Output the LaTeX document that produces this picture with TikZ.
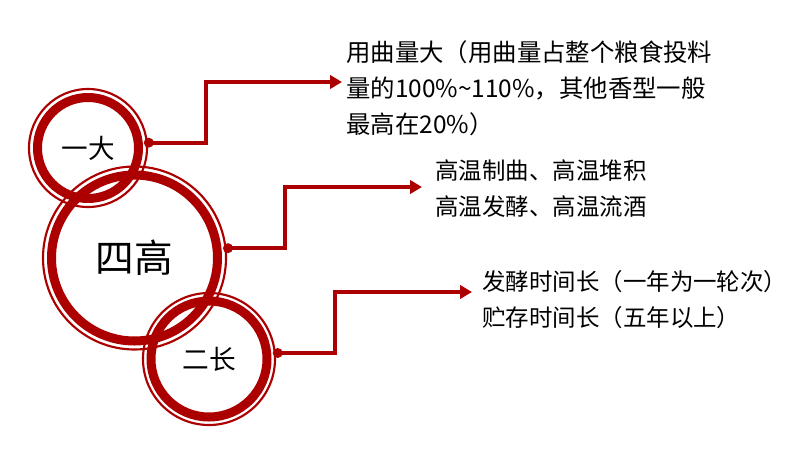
\documentclass[tikz,border=0pt]{standalone}
\usepackage{fontspec}
\setmainfont{Noto Sans CJK SC}
\usetikzlibrary{
  calc,
  positioning,
  arrows.meta}
\definecolor{wine}{RGB}{172,0,0}
\tikzset{
  ring/.style={
    circle,
    draw=wine,
    line width=6.75pt,
    inner sep=0pt,
    minimum size=#1
  },
  thinring/.style={
    draw=wine,
    line width=1.6pt
  },
  link/.style={
    draw=wine,
    line width=3pt,
    -{Triangle[length=9pt,width=10pt]}
  },
  note/.style={
    anchor=west,
    align=left,
    inner sep=0pt,
    font=\fontsize{17.6pt}{27pt}\selectfont
  }
}

\begin{document}
\begin{tikzpicture}[x=0.75pt,y=0.75pt]
  \useasboundingbox (0,0) rectangle (809,469);

  % Circles
  \node[
    ring=75.75pt,
    font=\fontsize{19.9pt}{24pt}\selectfont
  ] (yida) at (88,321) {一大};
  \draw[thinring] (yida) circle[radius=59];

  \node[
    ring=124.5pt,
    font=\fontsize{29pt}{34pt}\selectfont
  ] (sigao) at (134.5,211) {四高};
  \draw[thinring] (sigao) circle[radius=91.5];

  \node[
    ring=87pt,
    font=\fontsize{20pt}{24pt}\selectfont
  ] (erchang) at (209,110) {二长};
  \draw[thinring] (erchang) circle[radius=66];

  % Dots
  \coordinate (d1) at ($(yida.center)+(5:61)$);
  \coordinate (d2) at ($(sigao.center)+(6:94)$);
  \coordinate (d3) at ($(erchang.center)+(5:69)$);
  \foreach \d in {d1,d2,d3}
    \fill[wine] (\d) circle[radius=5];

  % Notes
  \node[
    note,
    font=\fontsize{18.3pt}{27pt}\selectfont
  ] (t1) at (346,380.5)
    {用曲量大（用曲量占整个粮食投料\\量的100\%\textasciitilde110\%，其他香型一般\\最高在20\%）};
  \node[note] (t2) at (435,280)
    {高温制曲、高温堆积\\高温发酵、高温流酒};
  \node[note] (t3) at (482,169.5)
    {发酵时间长（一年为一轮次）\\贮存时间长（五年以上）};

  % Arrows
  \draw[link] (d1) -- ++(57,0) |- ($(t1.west)+(-4,6.5)$);
  \draw[link] (d2) -- ++(57,0) |- ($(t2.west)+(-13,2)$);
  \draw[link] (d3) -- ++(57,0) |- ($(t3.west)+(-10,7.5)$);
\end{tikzpicture}
\end{document}
